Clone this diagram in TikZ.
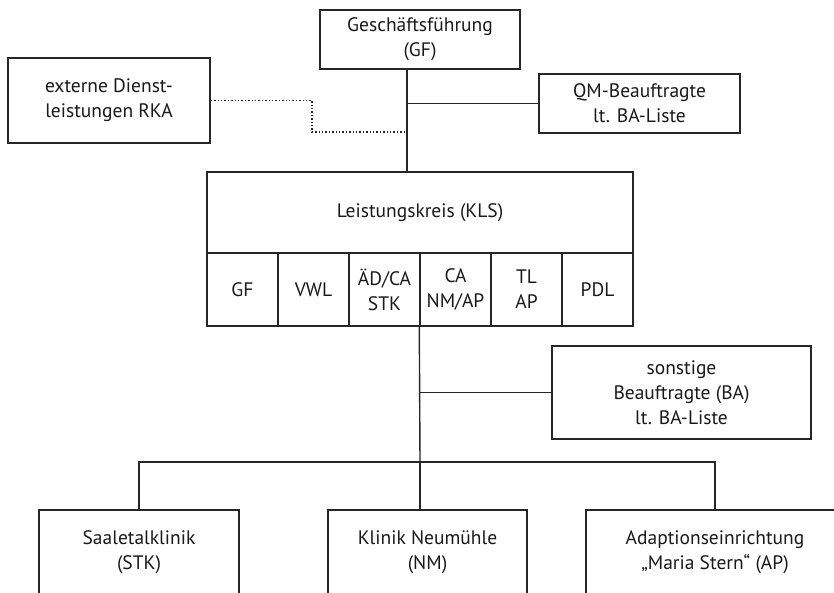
\documentclass[tikz,border=0pt]{standalone}
\usepackage{fontspec}
\setmainfont{PT Sans}
\usepackage{tikz}
\usetikzlibrary{positioning}

\tikzset{
  orgbox/.style={draw=black!85, line width=1.4pt, align=center, inner sep=2pt,
    font=\fontsize{19.5}{25}\selectfont, text=black!90},
  orgline/.style={draw=black!85, line width=1.4pt},
  extline/.style={draw=black!85, line width=1.4pt, dotted}
}

\begin{document}
\begin{tikzpicture}[x=1pt,y=-1pt]
\useasboundingbox (0,0) rectangle (834,592);
\clip (0,0) rectangle (834,592);

% Leitung
\node [orgbox, minimum width=200pt, minimum height=59pt] (gf) at (420,39.5) {Geschäftsführung\\(GF)};
\node [orgbox, minimum width=201pt, minimum height=59pt] (qm) at (639.5,103.5) {QM-Beauftragte\\lt. BA-Liste};
\node [orgbox, minimum width=202pt, minimum height=85pt] (ext) at (109,100.5) {externe Dienst-\\leistungen RKA};

% Leistungskreis
\node [orgbox, minimum width=426pt, minimum height=81pt] (kls) at (420,212.5) {Leistungskreis (KLS)};
\foreach \txt [count=\i] in {GF, VWL, {ÄD/CA\\STK}, {CA\\NM/AP}, {TL\\AP}, PDL}
  \node [orgbox, minimum width=71pt, minimum height=73pt] (c\i) at (171.5+71*\i,289.5) {\txt};

\node [orgbox, minimum width=259pt, minimum height=93pt] (ba) at (681.5,392.5) {sonstige\\Beauftragte (BA)\\lt. BA-Liste};

% Einrichtungen
\node [orgbox, minimum width=200pt, minimum height=84pt] (stk) at (139,552) {Saaletalklinik\\(STK)};
\node [orgbox, minimum width=199pt, minimum height=84pt] (nm) at (427.5,552) {Klinik Neumühle\\(NM)};
\node [orgbox, minimum width=258pt, minimum height=84pt] (ap) at (715,552) {Adaptionseinrichtung\\„Maria Stern“ (AP)};

% Verbindungen
\coordinate (trunk) at (407,0);
\coordinate (knick) at (312,132);
\coordinate (bus) at (420,462);
\draw [orgline] (gf.south -| trunk) -- (kls.north -| trunk);
\draw [orgline] (qm.west) -- (qm.west -| trunk);
\draw [extline] (ext.east) -| (knick) -- (knick -| trunk);
\draw [orgline] (c4.south west) -- (bus);
\draw [orgline] (ba.west) -- (ba.west -| bus);
\draw [orgline] (stk.north) |- (bus) -| (ap.north);
\draw [orgline] (bus) -- (bus |- nm.north);
\end{tikzpicture}
\end{document}
